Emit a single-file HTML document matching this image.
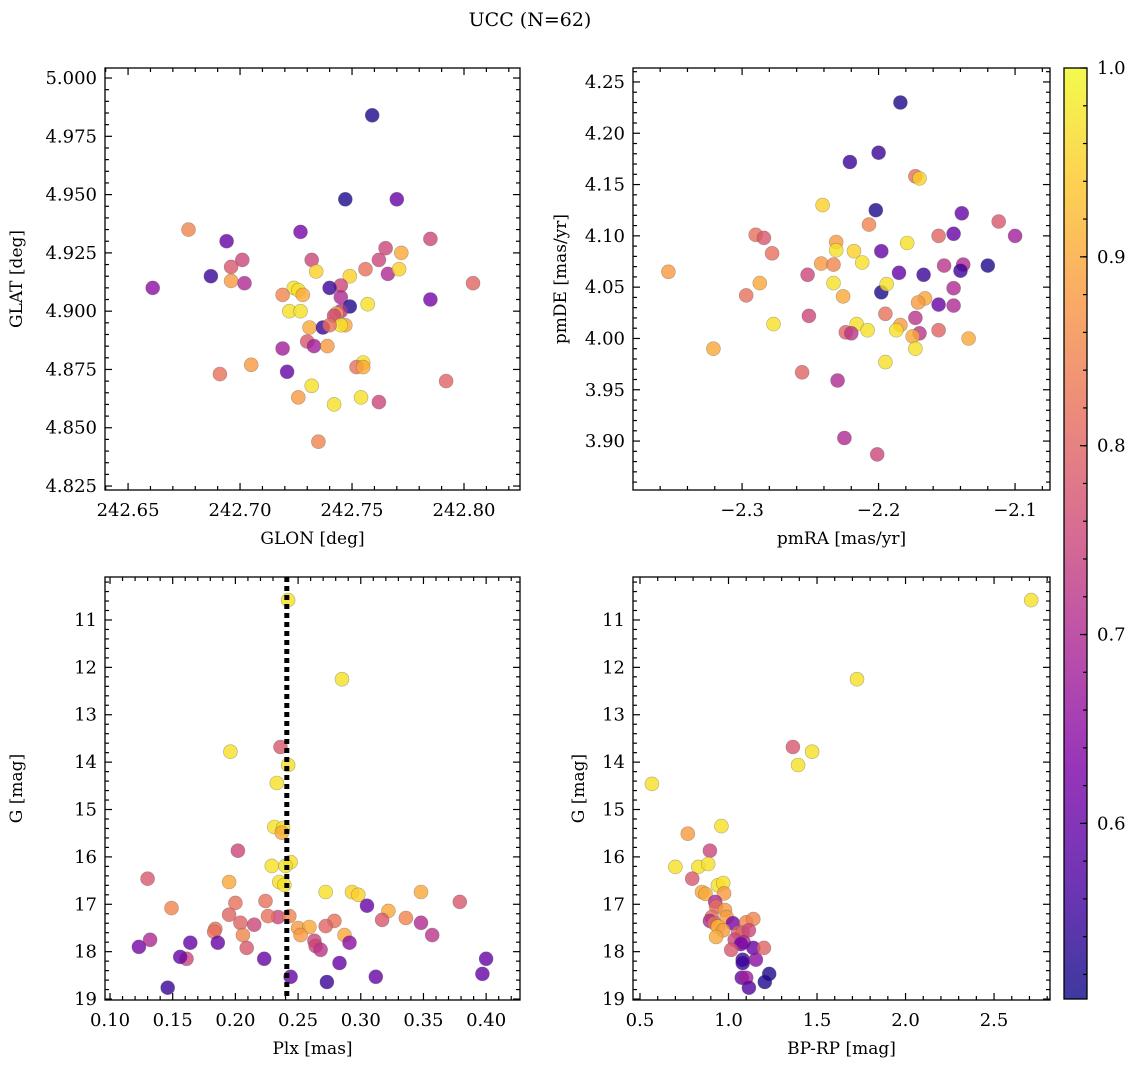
<!DOCTYPE html>
<html><head><meta charset="utf-8">
<style>
html,body{margin:0;padding:0;background:#fff;}
svg{display:block;font-family:"DejaVu Serif","Liberation Serif",serif;}
</style></head>
<body>
<svg id="chart" width="1136" height="1067" viewBox="0 0 1136 1067" xmlns="http://www.w3.org/2000/svg">
<text x="530" y="26" font-size="19" text-anchor="middle">UCC (N=62)</text>
</svg>
<script>
// ---- Panel 1: GLON / GLAT ----
const glon = [242.759,242.747,242.770,242.694,242.677,242.727,242.661,242.687,242.701,242.696,242.696,242.702,242.732,242.765,242.785,242.772,242.762,242.756,242.766,242.771,242.785,242.804,242.734,242.749,242.724,242.726,242.719,242.728,242.745,242.745,242.740,242.757,242.749,242.745,242.722,242.727,242.731,242.743,242.737,242.742,242.747,242.745,242.740,242.730,242.733,242.719,242.739,242.755,242.752,242.755,242.792,242.705,242.691,242.721,242.732,242.726,242.742,242.754,242.762,242.735];
const glat = [4.984,4.948,4.948,4.930,4.935,4.934,4.910,4.915,4.922,4.919,4.913,4.912,4.922,4.927,4.931,4.925,4.922,4.918,4.916,4.918,4.905,4.912,4.917,4.915,4.910,4.909,4.907,4.907,4.911,4.906,4.910,4.903,4.902,4.900,4.900,4.900,4.893,4.899,4.893,4.898,4.894,4.894,4.894,4.887,4.885,4.884,4.885,4.878,4.876,4.876,4.870,4.877,4.873,4.874,4.868,4.863,4.860,4.863,4.861,4.844];
const prob1 = [0.52,0.52,0.6,0.6,0.85,0.62,0.65,0.55,0.75,0.78,0.88,0.7,0.75,0.75,0.75,0.9,0.75,0.82,0.7,0.95,0.62,0.8,0.95,0.95,0.97,0.97,0.85,0.9,0.75,0.7,0.55,0.97,0.52,0.72,0.97,0.97,0.9,0.9,0.55,0.75,0.9,0.97,0.82,0.78,0.68,0.68,0.88,0.97,0.82,0.9,0.8,0.88,0.82,0.6,0.97,0.88,0.97,0.97,0.75,0.85];
// ---- Panel 2: pmRA / pmDE ----
const pmra = [-2.184,-2.221,-2.200,-2.241,-2.202,-2.173,-2.170,-2.139,-2.112,-2.100,-2.145,-2.290,-2.284,-2.278,-2.207,-2.231,-2.231,-2.218,-2.198,-2.179,-2.156,-2.212,-2.242,-2.233,-2.138,-2.152,-2.140,-2.120,-2.185,-2.167,-2.145,-2.354,-2.252,-2.287,-2.233,-2.198,-2.194,-2.226,-2.297,-2.166,-2.171,-2.156,-2.145,-2.251,-2.195,-2.173,-2.277,-2.216,-2.184,-2.208,-2.187,-2.156,-2.224,-2.220,-2.170,-2.175,-2.134,-2.173,-2.321,-2.195,-2.256,-2.230,-2.225,-2.201];
const pmde = [4.230,4.172,4.181,4.130,4.125,4.158,4.156,4.122,4.114,4.100,4.102,4.101,4.098,4.083,4.111,4.094,4.086,4.085,4.085,4.093,4.100,4.074,4.073,4.072,4.072,4.071,4.066,4.071,4.064,4.062,4.049,4.065,4.062,4.054,4.054,4.045,4.053,4.041,4.042,4.039,4.035,4.033,4.032,4.022,4.024,4.020,4.014,4.014,4.013,4.008,4.008,4.008,4.006,4.005,4.005,4.002,4.000,3.990,3.990,3.977,3.967,3.959,3.903,3.887];
const prob2 = [0.52,0.55,0.55,0.95,0.52,0.82,0.95,0.6,0.78,0.68,0.6,0.82,0.78,0.82,0.85,0.88,0.97,0.95,0.6,0.97,0.8,0.97,0.88,0.85,0.7,0.72,0.55,0.52,0.6,0.55,0.7,0.88,0.75,0.9,0.97,0.52,0.97,0.9,0.82,0.9,0.88,0.6,0.7,0.75,0.82,0.72,0.97,0.97,0.88,0.97,0.97,0.8,0.8,0.72,0.72,0.9,0.9,0.97,0.9,0.97,0.8,0.7,0.7,0.75];
// ---- Panel 3: Plx / G ----
const plx = [0.242,0.285,0.196,0.236,0.242,0.233,0.231,0.238,0.237,0.202,0.229,0.244,0.240,0.130,0.195,0.235,0.239,0.272,0.293,0.298,0.348,0.149,0.200,0.224,0.195,0.204,0.215,0.234,0.226,0.243,0.305,0.322,0.317,0.336,0.279,0.250,0.259,0.272,0.184,0.183,0.206,0.252,0.287,0.348,0.357,0.379,0.263,0.264,0.268,0.291,0.132,0.123,0.164,0.186,0.209,0.161,0.156,0.223,0.283,0.400,0.397,0.244,0.312,0.273,0.146];
const gmag3 = [10.58,12.25,13.78,13.68,14.06,14.44,15.37,15.39,15.49,15.87,16.19,16.11,16.19,16.46,16.53,16.53,16.59,16.74,16.74,16.80,16.74,17.08,16.97,16.93,17.22,17.39,17.43,17.27,17.25,17.25,17.03,17.14,17.33,17.29,17.35,17.50,17.48,17.46,17.52,17.58,17.65,17.65,17.65,17.39,17.65,16.95,17.77,17.88,17.96,17.81,17.75,17.90,17.81,17.81,17.92,18.15,18.11,18.15,18.24,18.15,18.47,18.53,18.53,18.64,18.76];
const prob3 = [0.97,0.97,0.97,0.78,0.97,0.97,0.97,0.97,0.9,0.75,0.97,0.97,0.97,0.78,0.9,0.97,0.97,0.97,0.95,0.95,0.9,0.85,0.82,0.82,0.8,0.8,0.75,0.75,0.82,0.85,0.6,0.9,0.78,0.85,0.82,0.88,0.9,0.8,0.82,0.82,0.85,0.88,0.9,0.7,0.72,0.78,0.75,0.75,0.72,0.65,0.7,0.62,0.6,0.6,0.78,0.75,0.6,0.6,0.6,0.6,0.6,0.6,0.6,0.55,0.55];
const plxLine = 0.241;
// ---- Panel 4: BP-RP / G ----
const bprp = [2.71,1.726,1.364,1.472,1.393,0.567,0.77,0.96,0.895,0.70,0.83,0.885,0.795,0.94,0.97,0.975,0.85,0.87,0.925,0.93,0.98,0.905,0.895,0.92,0.99,1.025,0.94,0.97,0.93,1.10,1.14,1.055,1.08,1.115,1.035,1.085,1.07,1.14,1.20,1.015,1.08,1.08,1.155,1.23,1.205,1.075,1.10,1.115];
const gmag4 = [10.58,12.25,13.68,13.78,14.06,14.46,15.51,15.35,15.87,16.21,16.21,16.15,16.46,16.6,16.55,16.77,16.74,16.78,16.95,17.05,17.12,17.27,17.35,17.4,17.27,17.4,17.47,17.55,17.69,17.38,17.31,17.6,17.6,17.55,17.75,17.8,17.84,17.92,17.92,17.96,18.17,18.24,18.17,18.47,18.64,18.55,18.55,18.76];
const prob4 = [0.97,0.97,0.78,0.97,0.97,0.97,0.88,0.97,0.75,0.97,0.97,0.97,0.78,0.97,0.97,0.88,0.9,0.9,0.7,0.82,0.88,0.82,0.7,0.82,0.88,0.62,0.92,0.88,0.9,0.85,0.85,0.8,0.8,0.75,0.75,0.7,0.62,0.6,0.8,0.78,0.55,0.55,0.65,0.52,0.52,0.6,0.68,0.58];
// colorbar
const cbMin = 0.507, cbMax = 1.0;
const cbTicks = [0.6,0.7,0.8,0.9,1.0];

const NS = "http://www.w3.org/2000/svg";
const svg = document.getElementById('chart');
function mk(tag, attrs, parent){ const e=document.createElementNS(NS,tag); for(const k in attrs) e.setAttribute(k,attrs[k]); (parent||svg).appendChild(e); return e; }

const stops = ["#0d0887","#4c02a1","#7e03a8","#a92395","#cc4778","#e66c5c","#f89540","#fdc527","#f0f921"];
function hex(c){return [parseInt(c.slice(1,3),16),parseInt(c.slice(3,5),16),parseInt(c.slice(5,7),16)];}
function plasma(t){ t=Math.max(0,Math.min(1,t)); const f=t*(stops.length-1); const i=Math.min(stops.length-2,Math.floor(f)); const u=f-i; const a=hex(stops[i]),b=hex(stops[i+1]); return 'rgb('+a.map((v,k)=>Math.round(v+(b[k]-v)*u)).join(',')+')'; }
function colorOf(p){ return plasma((p-cbMin)/(cbMax-cbMin)); }

function fmt(v,d){ return v.toFixed(d).replace('-','\u2212'); }

function panel(cfg, xs, ys, ps, name){
  const g = mk('g',{});
  
  
  const {L,R,T,B,x0,x1,y0,y1,invert} = cfg;
  const sx = v => L + (v-x0)/(x1-x0)*(R-L);
  const sy = invert ? (v => T + (v-y0)/(y1-y0)*(B-T)) : (v => B - (v-y0)/(y1-y0)*(B-T));
  const pg = mk('g',{},g);
  
  
  for(let i=0;i<xs.length;i++){
    const c = mk('circle',{cx:sx(xs[i]).toFixed(1),cy:sy(ys[i]).toFixed(1),r:7,fill:colorOf(ps[i]),'fill-opacity':0.8,stroke:'#555','stroke-opacity':0.45,'stroke-width':0.6},pg);
    
    
  }
  const tg = mk('g',{stroke:'#000','stroke-width':1.2},g);
  const eps=1e-9;
  for(let v=Math.ceil(x0/cfg.xmin-eps)*cfg.xmin; v<=x1+eps; v+=cfg.xmin){
    const X=sx(v); const maj=Math.abs(v/cfg.xmaj-Math.round(v/cfg.xmaj))<1e-4; const len=maj?7:4;
    mk('line',{x1:X,x2:X,y1:B,y2:B-len},tg); mk('line',{x1:X,x2:X,y1:T,y2:T+len},tg);
  }
  for(let v=Math.ceil(Math.min(y0,y1)/cfg.ymin-eps)*cfg.ymin; v<=Math.max(y0,y1)+eps; v+=cfg.ymin){
    const Y=sy(v); const maj=Math.abs(v/cfg.ymaj-Math.round(v/cfg.ymaj))<1e-4; const len=maj?7:4;
    mk('line',{y1:Y,y2:Y,x1:L,x2:L+len},tg); mk('line',{y1:Y,y2:Y,x1:R,x2:R-len},tg);
  }
  for(const v of cfg.xt){
    const t=mk('text',{x:sx(v),y:B+26,'font-size':18,'text-anchor':'middle'},g); t.textContent=fmt(v,cfg.xd);
    
    
  }
  for(const v of cfg.yt){
    const t=mk('text',{x:L-8,y:sy(v)+6,'font-size':18,'text-anchor':'end'},g); t.textContent=fmt(v,cfg.yd);
    
    
  }
  mk('rect',{x:L,y:T,width:R-L,height:B-T,fill:'none',stroke:'#000','stroke-width':1.3},g);
  const xl=mk('text',{x:(L+R)/2,y:B+54,'font-size':17,'text-anchor':'middle'},g); xl.textContent=cfg.xlab;
  
  
  const yx=cfg.ylx, yy=(T+B)/2;
  const yl=mk('text',{x:yx,y:yy,'font-size':17,'text-anchor':'middle',transform:`rotate(-90 ${yx} ${yy})`},g); yl.textContent=cfg.ylab;
  
  
  return {sx,sy,g};
}

panel({L:105,R:520,T:68,B:490,x0:242.6397,x1:242.825,y0:4.8233,y1:5.0043,xmaj:0.05,xmin:0.01,ymaj:0.025,ymin:0.005,
  xt:[242.65,242.70,242.75,242.80],yt:[4.825,4.85,4.875,4.9,4.925,4.95,4.975,5.0],xd:2,yd:3,xlab:'GLON [deg]',ylab:'GLAT [deg]',ylx:22},
  glon,glat,prob1,'panel-glon-glat');
panel({L:633,R:1050,T:68,B:490,x0:-2.3799,x1:-2.0744,y0:3.8523,y1:4.2636,xmaj:0.1,xmin:0.02,ymaj:0.05,ymin:0.01,
  xt:[-2.3,-2.2,-2.1],yt:[3.9,3.95,4.0,4.05,4.1,4.15,4.2,4.25],xd:1,yd:2,xlab:'pmRA [mas/yr]',ylab:'pmDE [mas/yr]',ylx:566},
  pmra,pmde,prob2,'panel-pm');
const p3 = panel({L:105,R:520,T:577,B:1000,x0:0.096,x1:0.427,y0:10.093,y1:19.02,invert:true,xmaj:0.05,xmin:0.01,ymaj:1,ymin:0.2,
  xt:[0.10,0.15,0.20,0.25,0.30,0.35,0.40],yt:[11,12,13,14,15,16,17,18,19],xd:2,yd:0,xlab:'Plx [mas]',ylab:'G [mag]',ylx:22},
  plx,gmag3,prob3,'panel-plx-g');
const vl = mk('line',{x1:p3.sx(plxLine),x2:p3.sx(plxLine),y1:577,y2:1000,stroke:'#000','stroke-width':5,'stroke-dasharray':'5 4'},p3.g);


panel({L:633,R:1050,T:577,B:1000,x0:0.4605,x1:2.816,y0:10.093,y1:19.02,invert:true,xmaj:0.5,xmin:0.1,ymaj:1,ymin:0.2,
  xt:[0.5,1.0,1.5,2.0,2.5],yt:[11,12,13,14,15,16,17,18,19],xd:1,yd:0,xlab:'BP-RP [mag]',ylab:'G [mag]',ylx:584},
  bprp,gmag4,prob4,'panel-cmd');

const cb = mk('g',{});


const defs = mk('defs',{},cb);
const lg = mk('linearGradient',{id:'cbg',x1:0,y1:1,x2:0,y2:0},defs);
for(let i=0;i<stops.length;i++) mk('stop',{offset:i/(stops.length-1),'stop-color':stops[i],'stop-opacity':0.8},lg);
const CL=1064,CR=1087,CT=68,CB=999;
mk('rect',{x:CL,y:CT,width:CR-CL,height:CB-CT,fill:'url(#cbg)'},cb);
const cy = v => CB - (v-cbMin)/(cbMax-cbMin)*(CB-CT);
for(let v=0.52; v<=1.0001; v+=0.02){ mk('line',{x1:CR,x2:CR-4,y1:cy(v),y2:cy(v),stroke:'#000','stroke-width':1.2},cb); }
for(const v of cbTicks){
  mk('line',{x1:CR,x2:CR-7,y1:cy(v),y2:cy(v),stroke:'#000','stroke-width':1.2},cb);
  const t=mk('text',{x:CR+10,y:cy(v)+6,'font-size':18},cb); t.textContent=v.toFixed(1);
  
  
}
mk('rect',{x:CL,y:CT,width:CR-CL,height:CB-CT,fill:'none',stroke:'#000','stroke-width':1.3},cb);
</script>
</body></html>
